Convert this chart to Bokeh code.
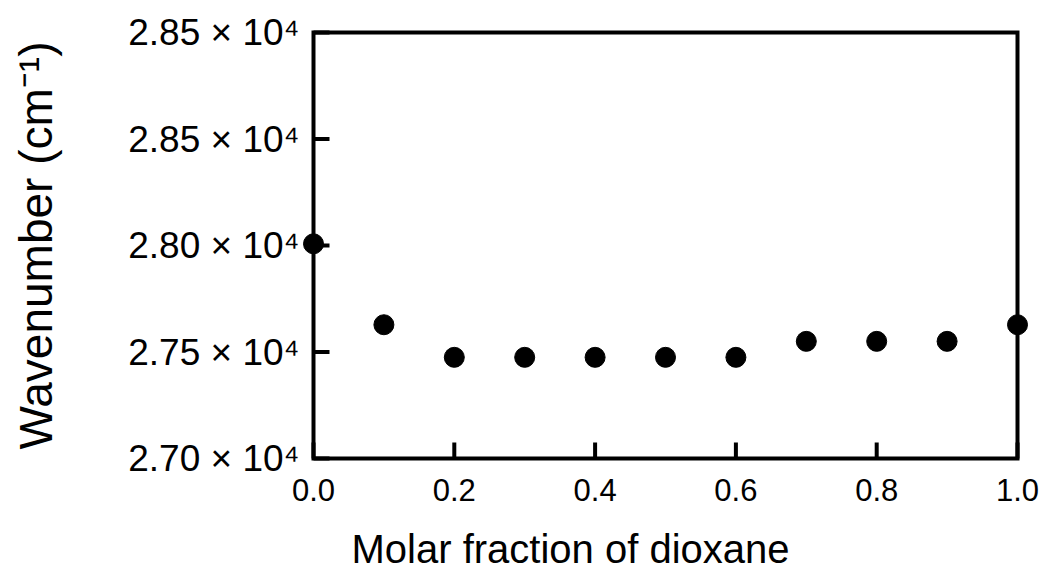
from bokeh.plotting import figure
from bokeh.models import FixedTicker, Range1d, Title
from bokeh.embed import file_html
from bokeh.resources import INLINE

# data
x_frac = [0.0, 0.1, 0.2, 0.3, 0.4, 0.5, 0.6, 0.7, 0.8, 0.9, 1.0]
wavenumber = [28008, 27628, 27475, 27475, 27475, 27475, 27475, 27550, 27550, 27550, 27628]
y_ticks = [27000, 27500, 28000, 28500, 29000]
y_tick_labels = ["2.70 × 10⁴", "2.75 × 10⁴", "2.80 × 10⁴", "2.85 × 10⁴", "2.85 × 10⁴"]
x_ticks = [0.0, 0.2, 0.4, 0.6, 0.8, 1.0]
x_tick_labels = ["0.0", "0.2", "0.4", "0.6", "0.8", "1.0"]
x_title = "Molar fraction of dioxane"
y_title = "Wavenumber (cm⁻¹)"

FONT = "Liberation Sans"

x0, x1 = x_ticks[0], x_ticks[-1]
y0, y1 = y_ticks[0], y_ticks[-1]
BOX_W, BOX_H, PAD, TICK = 704, 426, 14, 16
dx = (x1 - x0) / BOX_W   # data units per pixel
dy = (y1 - y0) / BOX_H

p = figure(width=1040, height=580, output_backend="svg", toolbar_location=None,
           x_range=Range1d(x0 - PAD * dx, x1 + PAD * dx),
           y_range=Range1d(y0 - PAD * dy, y1 + PAD * dy),
           min_border_left=299, min_border_right=9, min_border_top=18, min_border_bottom=108)
p.background_fill_color = "white"
p.border_fill_color = "white"
p.grid.visible = False
p.outline_line_color = None

# plot box
p.quad(left=[x0], right=[x1], bottom=[y0], top=[y1], fill_color=None,
       line_color="black", line_width=4, line_join="miter")
# inward tick marks
p.segment(x0=[x0] * len(y_ticks), y0=y_ticks, x1=[x0 + TICK * dx] * len(y_ticks), y1=y_ticks,
          line_color="black", line_width=4)
p.segment(x0=x_ticks, y0=[y0] * len(x_ticks), x1=x_ticks, y1=[y0 + TICK * dy] * len(x_ticks),
          line_color="black", line_width=4)

p.scatter(x_frac, wavenumber, size=20, color="black")

for ax in (p.xaxis[0], p.yaxis[0]):
    ax.axis_line_color = None
    ax.major_tick_line_color = None
    ax.major_tick_in = 0
    ax.major_tick_out = 0
    ax.minor_tick_line_color = None
    ax.major_label_text_font = FONT
    ax.major_label_text_color = "black"
    ax.axis_label_text_font = FONT
    ax.axis_label_text_font_style = "normal"
    ax.axis_label_text_color = "black"

xa = p.xaxis[0]
xa.ticker = FixedTicker(ticks=x_ticks)
xa.major_label_overrides = {t: l for t, l in zip(x_ticks, x_tick_labels)}
xa.major_label_text_font_size = "31px"
xa.major_label_standoff = 6
# blank spacer label to push the title further down
xa.axis_label = " "
xa.axis_label_text_font_size = "12px"
xa.axis_label_standoff = 4

ya = p.yaxis[0]
ya.ticker = FixedTicker(ticks=y_ticks)
ya.major_label_overrides = {t: l for t, l in zip(y_ticks, y_tick_labels)}
ya.major_label_text_font_size = "37px"
ya.major_label_standoff = 0
ya.axis_label = y_title
ya.axis_label_text_font_size = "46px"
ya.axis_label_standoff = 63

# x-axis title (sits left of centre, as in the original)
p.add_layout(Title(text=x_title, align="left", offset=52, text_font=FONT,
                   text_font_size="40px", text_font_style="normal", text_color="black",
                   standoff=0), "below")

open("out.html", "w").write(file_html(p, INLINE))
